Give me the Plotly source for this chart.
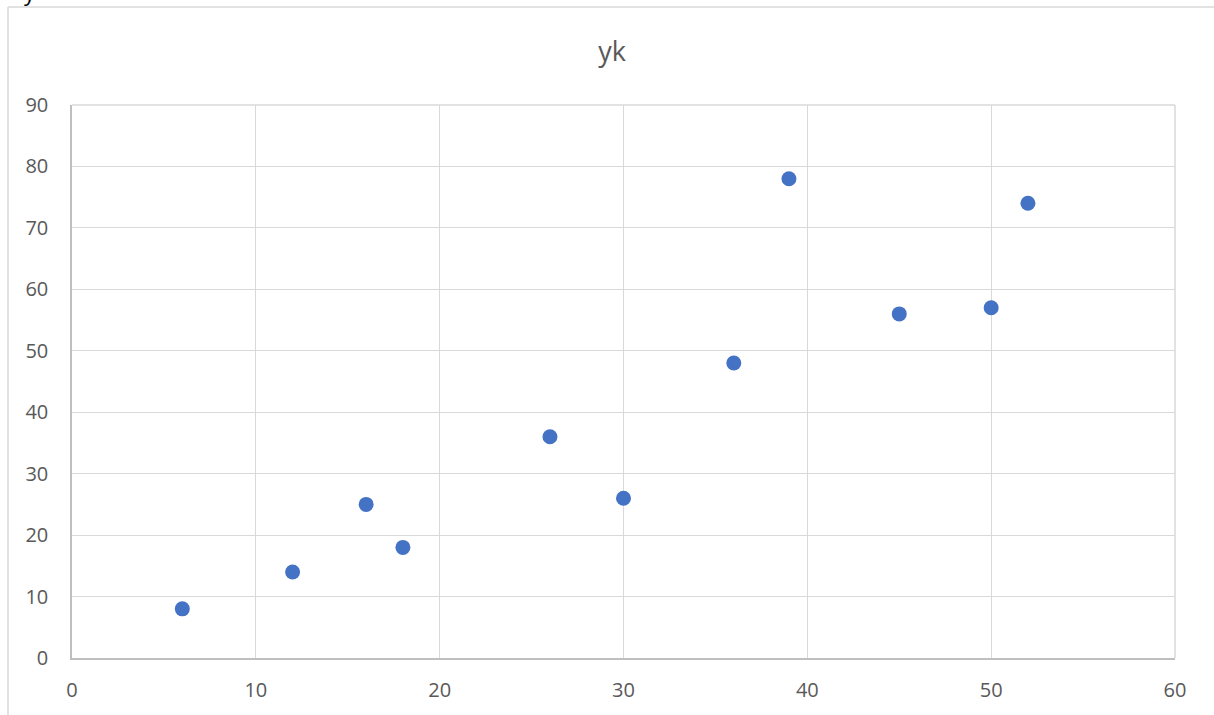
import plotly.graph_objects as go

x_vals = [6, 12, 16, 18, 26, 30, 36, 39, 45, 50, 52]
y_vals = [8, 14, 25, 18, 36, 26, 48, 78, 56, 57, 74]
x_ticks = [0, 10, 20, 30, 40, 50, 60]
y_ticks = [0, 10, 20, 30, 40, 50, 60, 70, 80, 90]
title_text = "yk"

W, H = 1214, 715
L, R, T, B = 72, 39, 105, 57
pw, ph = W - L - R, H - T - B

fig = go.Figure()
fig.add_trace(go.Scatter(
    x=x_vals, y=y_vals, mode="markers",
    marker=dict(color="#4472C4", size=15, line=dict(width=0)),
    showlegend=False, hoverinfo="x+y",
))

font_fam = "Open Sans, Liberation Sans, sans-serif"
fig.update_layout(
    width=W, height=H,
    margin=dict(l=L, r=R, t=T, b=B, autoexpand=False),
    paper_bgcolor="white", plot_bgcolor="white",
    title=dict(text=title_text, x=612 / W, xref="container", xanchor="center",
               y=1 - 52 / H, yref="container", yanchor="middle",
               font=dict(family=font_fam, size=27, color="#595959")),
    xaxis=dict(range=[0, 60], tickvals=x_ticks, ticktext=[str(v) for v in x_ticks],
               showgrid=True, gridcolor="#d9d9d9", gridwidth=1,
               showline=True, linecolor="#bfbfbf", linewidth=1.5, mirror=False,
               zeroline=False, ticks="", ticklabelstandoff=13, automargin=False,
               tickfont=dict(family=font_fam, size=20, color="#595959")),
    yaxis=dict(range=[0, 90], tickvals=y_ticks, ticktext=[str(v) for v in y_ticks],
               showgrid=True, gridcolor="#d9d9d9", gridwidth=1,
               showline=True, linecolor="#bfbfbf", linewidth=1.5,
               zeroline=False, ticks="", ticklabelstandoff=18, automargin=False,
               tickfont=dict(family=font_fam, size=20, color="#595959")),
)

# right/top plot-area frame lines (light)
fig.add_shape(type="line", xref="paper", yref="paper", x0=1, x1=1, y0=0, y1=1,
              line=dict(color="#d9d9d9", width=1.5))
fig.add_shape(type="line", xref="paper", yref="paper", x0=0, x1=1, y0=1, y1=1,
              line=dict(color="#d9d9d9", width=1.5))

# outer chart border (partially visible, cropped)
def px_x(p):
    return (p - L) / pw

def px_y(p):
    return 1 - (p - T) / ph

fig.add_shape(type="line", xref="paper", yref="paper",
              x0=px_x(8), x1=px_x(1214), y0=px_y(7), y1=px_y(7),
              line=dict(color="#d9d9d9", width=1.5))
fig.add_shape(type="line", xref="paper", yref="paper",
              x0=px_x(8), x1=px_x(8), y0=px_y(7), y1=px_y(715),
              line=dict(color="#d9d9d9", width=1.5))

# cropped text fragment in top-left corner
fig.add_annotation(text="y", xref="paper", yref="paper",
                   x=px_x(30), y=px_y(-8), xanchor="center", yanchor="middle",
                   showarrow=False, font=dict(family=font_fam, size=22, color="#000000"))

fig.write_html("out.html", config={"displayModeBar": False},
               post_script="document.body.style.margin='0';document.body.style.overflow='hidden';")
